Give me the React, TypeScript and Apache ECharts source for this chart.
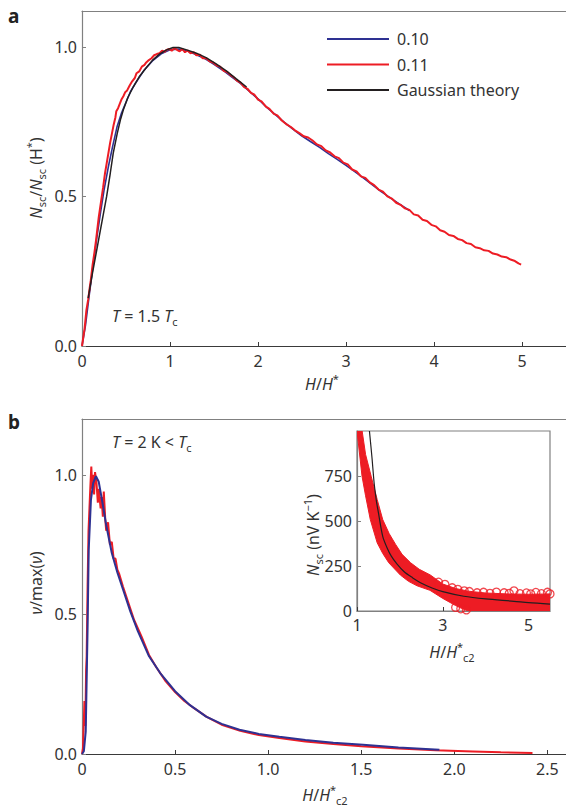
import { useEffect, useRef } from "react";
import * as echarts from "echarts";

const FONT = "'Noto Sans', 'Open Sans', sans-serif";
const TXT = "#333333";
const BLUE = "#2e3192";
const RED = "#ed1c24";
const BLACK = "#231f20";
const AXIS_DARK = "#3a3a3a";
const AXIS_GRAY = "#808080";

// ---------- Panel a : N_sc / N_sc(H*) vs H/H* ----------
const legendNames = ["0.10", "0.11", "Gaussian theory"];
const panelATicksX = [0, 1, 2, 3, 4, 5];
const panelATicksY = [0, 0.5, 1.0];

const blueA: [number, number][] = [
  [0, 0], [0.04, 0.07], [0.08, 0.165], [0.12, 0.255], [0.17, 0.365], [0.21, 0.445], [0.25, 0.52],
  [0.3, 0.6], [0.35, 0.67], [0.4, 0.735], [0.45, 0.78], [0.5, 0.815], [0.55, 0.85], [0.6, 0.875],
  [0.7, 0.92], [0.8, 0.953], [0.9, 0.977], [1.0, 0.99], [1.1, 0.993], [1.2, 0.986], [1.3, 0.974],
  [1.4, 0.96], [1.5, 0.942], [1.6, 0.922], [1.7, 0.9], [1.8, 0.878], [1.9, 0.852], [2.0, 0.826],
  [2.1, 0.798], [2.2, 0.773], [2.3, 0.748], [2.4, 0.724], [2.5, 0.702], [2.6, 0.683], [2.7, 0.664],
  [2.8, 0.643], [2.9, 0.624], [3.0, 0.604], [3.1, 0.583], [3.2, 0.561], [3.3, 0.539], [3.4, 0.516],
  [3.5, 0.496], [3.6, 0.476], [3.72, 0.453],
];

const redA: [number, number][] = [
  [0, 0], [0.03, 0.06], [0.05, 0.12], [0.07, 0.155], [0.09, 0.2], [0.1, 0.22], [0.12, 0.27], [0.14, 0.31],
  [0.16, 0.355], [0.17, 0.38], [0.19, 0.43], [0.2, 0.45], [0.22, 0.49], [0.24, 0.53], [0.26, 0.575],
  [0.28, 0.61], [0.3, 0.645], [0.32, 0.68], [0.34, 0.71], [0.36, 0.74], [0.38, 0.765], [0.39, 0.785],
  [0.41, 0.795], [0.43, 0.81], [0.45, 0.825], [0.47, 0.835], [0.49, 0.848], [0.51, 0.853], [0.54, 0.87],
  [0.57, 0.885], [0.6, 0.896], [0.62, 0.912], [0.65, 0.918], [0.68, 0.934], [0.71, 0.94], [0.73, 0.948],
  [0.76, 0.956], [0.79, 0.962], [0.82, 0.972], [0.85, 0.976], [0.88, 0.979], [0.91, 0.987], [0.94, 0.984],
  [0.96, 0.99], [0.99, 0.993], [1.02, 0.987], [1.05, 0.996], [1.08, 0.99], [1.11, 0.985], [1.14, 0.993],
  [1.17, 0.982], [1.2, 0.988], [1.23, 0.979], [1.27, 0.982], [1.3, 0.972], [1.34, 0.974], [1.37, 0.962],
  [1.41, 0.963], [1.45, 0.952], [1.49, 0.948], [1.53, 0.938], [1.57, 0.934], [1.61, 0.92], [1.65, 0.916],
  [1.69, 0.905], [1.72, 0.9], [1.76, 0.887], [1.8, 0.881], [1.84, 0.866], [1.88, 0.86], [1.92, 0.846],
  [1.96, 0.84], [2.0, 0.824], [2.04, 0.818], [2.09, 0.8], [2.13, 0.793], [2.18, 0.776], [2.22, 0.771],
  [2.27, 0.754], [2.32, 0.742], [2.37, 0.733], [2.42, 0.721], [2.47, 0.712], [2.52, 0.701], [2.57, 0.697],
  [2.62, 0.687], [2.67, 0.674], [2.72, 0.668], [2.77, 0.654], [2.82, 0.647], [2.87, 0.634], [2.92, 0.628],
  [2.97, 0.613], [3.02, 0.607], [3.07, 0.59], [3.12, 0.584], [3.17, 0.567], [3.22, 0.562], [3.27, 0.547],
  [3.32, 0.538], [3.37, 0.523], [3.42, 0.516], [3.47, 0.5], [3.52, 0.493], [3.57, 0.479], [3.62, 0.472],
  [3.67, 0.46], [3.72, 0.455], [3.77, 0.44], [3.82, 0.436], [3.87, 0.422], [3.92, 0.418], [3.97, 0.405],
  [4.02, 0.4], [4.07, 0.387], [4.12, 0.382], [4.17, 0.371], [4.22, 0.368], [4.27, 0.358], [4.32, 0.354],
  [4.37, 0.344], [4.42, 0.341], [4.47, 0.33], [4.52, 0.327], [4.57, 0.32], [4.62, 0.318], [4.67, 0.309],
  [4.72, 0.306], [4.77, 0.299], [4.82, 0.297], [4.87, 0.289], [4.92, 0.284], [4.96, 0.276], [4.99, 0.272],
];

const gaussA: [number, number][] = [
  [0.07, 0.16], [0.12, 0.245], [0.17, 0.325], [0.22, 0.405], [0.28, 0.5], [0.32, 0.575], [0.355, 0.645],
  [0.4, 0.71], [0.44, 0.76], [0.47, 0.79], [0.52, 0.83], [0.58, 0.865], [0.65, 0.9], [0.73, 0.93],
  [0.8, 0.955], [0.88, 0.976], [0.96, 0.99], [1.035, 0.998], [1.1, 0.998], [1.19, 0.99], [1.3, 0.979],
  [1.41, 0.964], [1.52, 0.944], [1.64, 0.92], [1.75, 0.894], [1.87, 0.866],
];

// ---------- Panel b : nu/max(nu) vs H/H*c2 ----------
const panelBTicksX = [0, 0.5, 1.0, 1.5, 2.0, 2.5];
const panelBTicksY = [0, 0.5, 1.0];

const blueB: [number, number][] = [
  [0, 0], [0.01, 0.01], [0.02, 0.08], [0.03, 0.45], [0.036, 0.73], [0.048, 0.91], [0.06, 0.97],
  [0.075, 0.995], [0.09, 0.975], [0.11, 0.9], [0.13, 0.82], [0.16, 0.72], [0.19, 0.65], [0.22, 0.59],
  [0.26, 0.51], [0.3, 0.44], [0.36, 0.35], [0.42, 0.29], [0.5, 0.225], [0.58, 0.175], [0.667, 0.134],
  [0.75, 0.108], [0.846, 0.087], [0.95, 0.072], [1.06, 0.062], [1.2, 0.05], [1.35, 0.04], [1.51, 0.033],
  [1.7, 0.023], [1.92, 0.015],
];

const redB: [number, number][] = [
  [0, 0], [0.005, 0.02], [0.01, 0.12], [0.013, 0.19], [0.018, 0.1], [0.022, 0.3], [0.025, 0.35],
  [0.03, 0.6], [0.035, 0.8], [0.04, 0.88], [0.045, 0.96], [0.05, 1.03], [0.055, 0.95], [0.06, 1.0],
  [0.065, 0.93], [0.07, 1.01], [0.078, 0.97], [0.085, 0.9], [0.09, 0.95], [0.1, 0.88], [0.105, 0.92],
  [0.112, 0.85], [0.117, 0.94], [0.125, 0.84], [0.13, 0.8], [0.14, 0.83], [0.15, 0.75], [0.16, 0.76],
  [0.17, 0.7], [0.18, 0.7], [0.19, 0.66], [0.2, 0.645], [0.22, 0.6], [0.25, 0.54], [0.28, 0.48],
  [0.32, 0.42], [0.36, 0.355], [0.4, 0.31], [0.45, 0.26], [0.5, 0.222], [0.55, 0.19], [0.6, 0.165],
  [0.67, 0.133], [0.75, 0.105], [0.85, 0.083], [0.95, 0.068], [1.06, 0.057], [1.2, 0.045], [1.35, 0.036],
  [1.5, 0.028], [1.7, 0.02], [1.9, 0.013], [2.1, 0.009], [2.25, 0.006], [2.42, 0.004],
];

// ---------- Inset : N_sc (nV/K) vs H/H*c2 ----------
const insetTicksX = [1, 3, 5];
const insetTicksY = [0, 250, 500, 750];

const bandUpper: [number, number][] = [
  [1.12, 1000], [1.2, 870], [1.33, 749], [1.47, 620], [1.6, 508], [1.75, 430], [1.9, 370], [2.05, 315],
  [2.25, 268], [2.45, 232], [2.71, 200], [3.0, 150], [3.3, 125], [3.6, 110], [4.0, 100], [4.5, 95],
  [5.0, 93], [5.5, 95],
];
const bandLower: [number, number][] = [
  [5.5, 0], [3.6, 0], [3.5, 8], [3.3, 30], [3.0, 70], [2.7, 115], [2.4, 140], [2.2, 165], [2.01, 200],
  [1.74, 268], [1.6, 320], [1.47, 379], [1.31, 508], [1.2, 640], [1.117, 749], [1.0, 1000],
];
const insetCircles: [number, number][] = [
  [2.9, 160], [3.05, 148], [3.22, 129], [3.35, 120], [3.5, 112], [3.62, 108], [3.8, 101], [3.95, 104],
  [4.1, 98], [4.25, 105], [4.43, 101], [4.55, 98], [4.66, 112], [4.8, 96], [4.95, 100], [5.05, 95],
  [5.17, 103], [5.3, 96], [5.44, 104], [5.5, 95], [3.3, 20], [3.42, 12], [3.55, 6],
];
const insetTheory: [number, number][] = [
  [1.29, 1000], [1.35, 850], [1.4, 710], [1.45, 615], [1.5, 545], [1.6, 415], [1.7, 352], [1.8, 305],
  [1.93, 262], [2.1, 218], [2.3, 184], [2.48, 157], [2.75, 128], [3.0, 108], [3.49, 82], [4.0, 67],
  [4.66, 54], [5.0, 46], [5.5, 38],
];

const rich = {
  n: { fontSize: 16, fontFamily: FONT, fill: TXT, color: TXT, lineHeight: 22 },
  i: { fontSize: 16, fontFamily: FONT, fill: TXT, color: TXT, fontStyle: "italic", lineHeight: 22 },
  s: { fontSize: 11, fontFamily: FONT, fill: TXT, color: TXT, lineHeight: 11, verticalAlign: "bottom" },
  sup: { fontSize: 11, fontFamily: FONT, fill: TXT, color: TXT, lineHeight: 11, verticalAlign: "top" },
};

function label(text: string, x: number, y: number, rotate = false, align = "center") {
  return {
    type: "text",
    x,
    y,
    rotation: rotate ? Math.PI / 2 : 0,
    style: { text, rich, align, verticalAlign: "middle", fill: TXT, fontFamily: FONT, fontSize: 16 },
  };
}

const fmt1 = (v: number) => v.toFixed(1);

function xAxisBase(gridIndex: number, min: number, max: number, interval: number, formatter: any) {
  return {
    type: "value",
    gridIndex,
    min,
    max,
    interval,
    splitLine: { show: false },
    axisLine: { show: true, onZero: false, lineStyle: { color: AXIS_DARK, width: 1.2 } },
    axisTick: { show: true, inside: true, length: 4, lineStyle: { color: AXIS_DARK } },
    axisLabel: { showMaxLabel: false, formatter, fontSize: 16, color: TXT, fontFamily: FONT, margin: 7 },
  };
}
function topLine(gridIndex: number, min: number, max: number) {
  return {
    type: "value",
    gridIndex,
    position: "top",
    min,
    max,
    splitLine: { show: false },
    axisLine: { show: true, onZero: false, lineStyle: { color: AXIS_GRAY, width: 1.2 } },
    axisTick: { show: false },
    axisLabel: { show: false },
  };
}
function yAxisBase(gridIndex: number, min: number, max: number, interval: number, formatter: any, color = AXIS_GRAY) {
  return {
    type: "value",
    gridIndex,
    min,
    max,
    interval,
    splitLine: { show: false },
    axisLine: { show: true, onZero: false, lineStyle: { color, width: 1.2 } },
    axisTick: { show: true, inside: true, length: 4, lineStyle: { color } },
    axisLabel: { showMaxLabel: false, formatter, fontSize: 16, color: TXT, fontFamily: FONT, margin: 5 },
  };
}

const lineSeries = (name: string, data: [number, number][], color: string, width: number, xi: number, yi: number, z = 2) => ({
  name,
  type: "line",
  xAxisIndex: xi,
  yAxisIndex: yi,
  data,
  showSymbol: false,
  symbol: "none",
  lineStyle: { color, width },
  itemStyle: { color },
  z,
});

export default function App() {
  const ref = useRef<HTMLDivElement>(null);
  useEffect(() => {
    const chart = echarts.init(ref.current!, null, { renderer: "svg" });
    const option: any = {
      animation: false,
      backgroundColor: "#ffffff",
      textStyle: { fontFamily: FONT },
      grid: [
        { left: 82, top: 11, width: 484, height: 335 },
        { left: 82, top: 419, width: 484, height: 335 },
        { left: 357, top: 431, width: 193, height: 180, show: true, borderColor: AXIS_GRAY, borderWidth: 1.2, backgroundColor: "#fff", z: 5 },
      ],
      xAxis: [
        xAxisBase(0, panelATicksX[0], 5.5, 1, (v: number) => String(v)),
        topLine(0, 0, 5.5),
        xAxisBase(1, panelBTicksX[0], 2.6, 0.5, (v: number) => (v === 0 ? "0" : fmt1(v))),
        topLine(1, 0, 2.6),
        { ...xAxisBase(2, insetTicksX[0], 5.5, 2, (v: number) => String(v)), z: 6, axisLine: { show: true, onZero: false, lineStyle: { color: AXIS_GRAY, width: 1.2 } }, axisLabel: { showMaxLabel: false, fontSize: 16, color: TXT, fontFamily: FONT, margin: 6 } },
      ],
      yAxis: [
        yAxisBase(0, panelATicksY[0], 1.12, 0.5, fmt1),
        yAxisBase(1, panelBTicksY[0], 1.2, 0.5, fmt1),
        { ...yAxisBase(2, insetTicksY[0], 1000, 250, (v: number) => String(v)), z: 6 },
      ],
      legend: {
        data: legendNames,
        orient: "vertical",
        left: 327,
        top: 31,
        padding: 0,
        itemWidth: 62,
        itemHeight: 2,
        itemGap: 9.5,
        icon: "rect",
        selectedMode: false,
        textStyle: { fontSize: 16, color: TXT, fontFamily: FONT, lineHeight: 16, padding: [0, 0, 0, 3] },
      },
      graphic: [
        { type: "text", x: 8, y: 16, style: { text: "a", fontSize: 19, fontWeight: "bold", fill: "#222", fontFamily: FONT, verticalAlign: "middle" } },
        { type: "text", x: 8, y: 422, style: { text: "b", fontSize: 19, fontWeight: "bold", fill: "#222", fontFamily: FONT, verticalAlign: "middle" } },
        label("{i|N}{s|sc}{n|/}{i|N}{s|sc}{n| (H}{sup|*}{n|)}", 36, 178, true),
        label("{i|H}{n|/}{i|H}{sup|*}", 322, 384),
        label("{i|T}{n| = 1.5 }{i|T}{s|c}", 112, 316, false, "left"),
        label("{i|T}{n| = 2 K < }{i|T}{s|c}", 112, 442, false, "left"),
        label("{i|ν}{n|/max(}{i|ν}{n|)}", 36, 583, true),
        label("{i|H}{n|/}{i|H}{sup|*}{s|c2}", 325, 795),
        label("{i|N}{s|sc}{n| (nV K}{sup|−1}{n|)}", 313, 535, true),
        label("{i|H}{n|/}{i|H}{sup|*}{s|c2}", 452, 652),
      ],
      series: [
        lineSeries("0.10", blueA, BLUE, 1.6, 0, 0, 2),
        lineSeries("0.11", redA, RED, 2, 0, 0, 3),
        lineSeries("Gaussian theory", gaussA, BLACK, 1.5, 0, 0, 4),
        lineSeries("b 0.11", redB, RED, 2, 2, 1, 2),
        lineSeries("b 0.10", blueB, BLUE, 2, 2, 1, 3),
        {
          type: "custom",
          name: "inset band",
          xAxisIndex: 4,
          yAxisIndex: 2,
          clip: true,
          z: 7,
          data: [[1, 0]],
          renderItem: (_params: any, api: any) => {
            const pts = bandUpper.concat(bandLower).map((p) => api.coord(p));
            return { type: "polygon", shape: { points: pts }, style: { fill: RED, stroke: RED, lineWidth: 1 } };
          },
        },
        {
          type: "scatter",
          name: "inset circles",
          xAxisIndex: 4,
          yAxisIndex: 2,
          data: insetCircles,
          symbol: "circle",
          symbolSize: 8,
          itemStyle: { color: "rgba(255,255,255,0)", borderColor: RED, borderWidth: 1.3 },
          z: 8,
          clip: true,
        },
        { ...lineSeries("inset theory", insetTheory, BLACK, 1.2, 4, 2, 9), smooth: 0.3, clip: true },
      ],
    };
    chart.setOption(option);
    return () => chart.dispose();
  }, []);
  return <div ref={ref} style={{ position: "absolute", left: 0, top: 0, width: 566, height: 809 }} />;
}
